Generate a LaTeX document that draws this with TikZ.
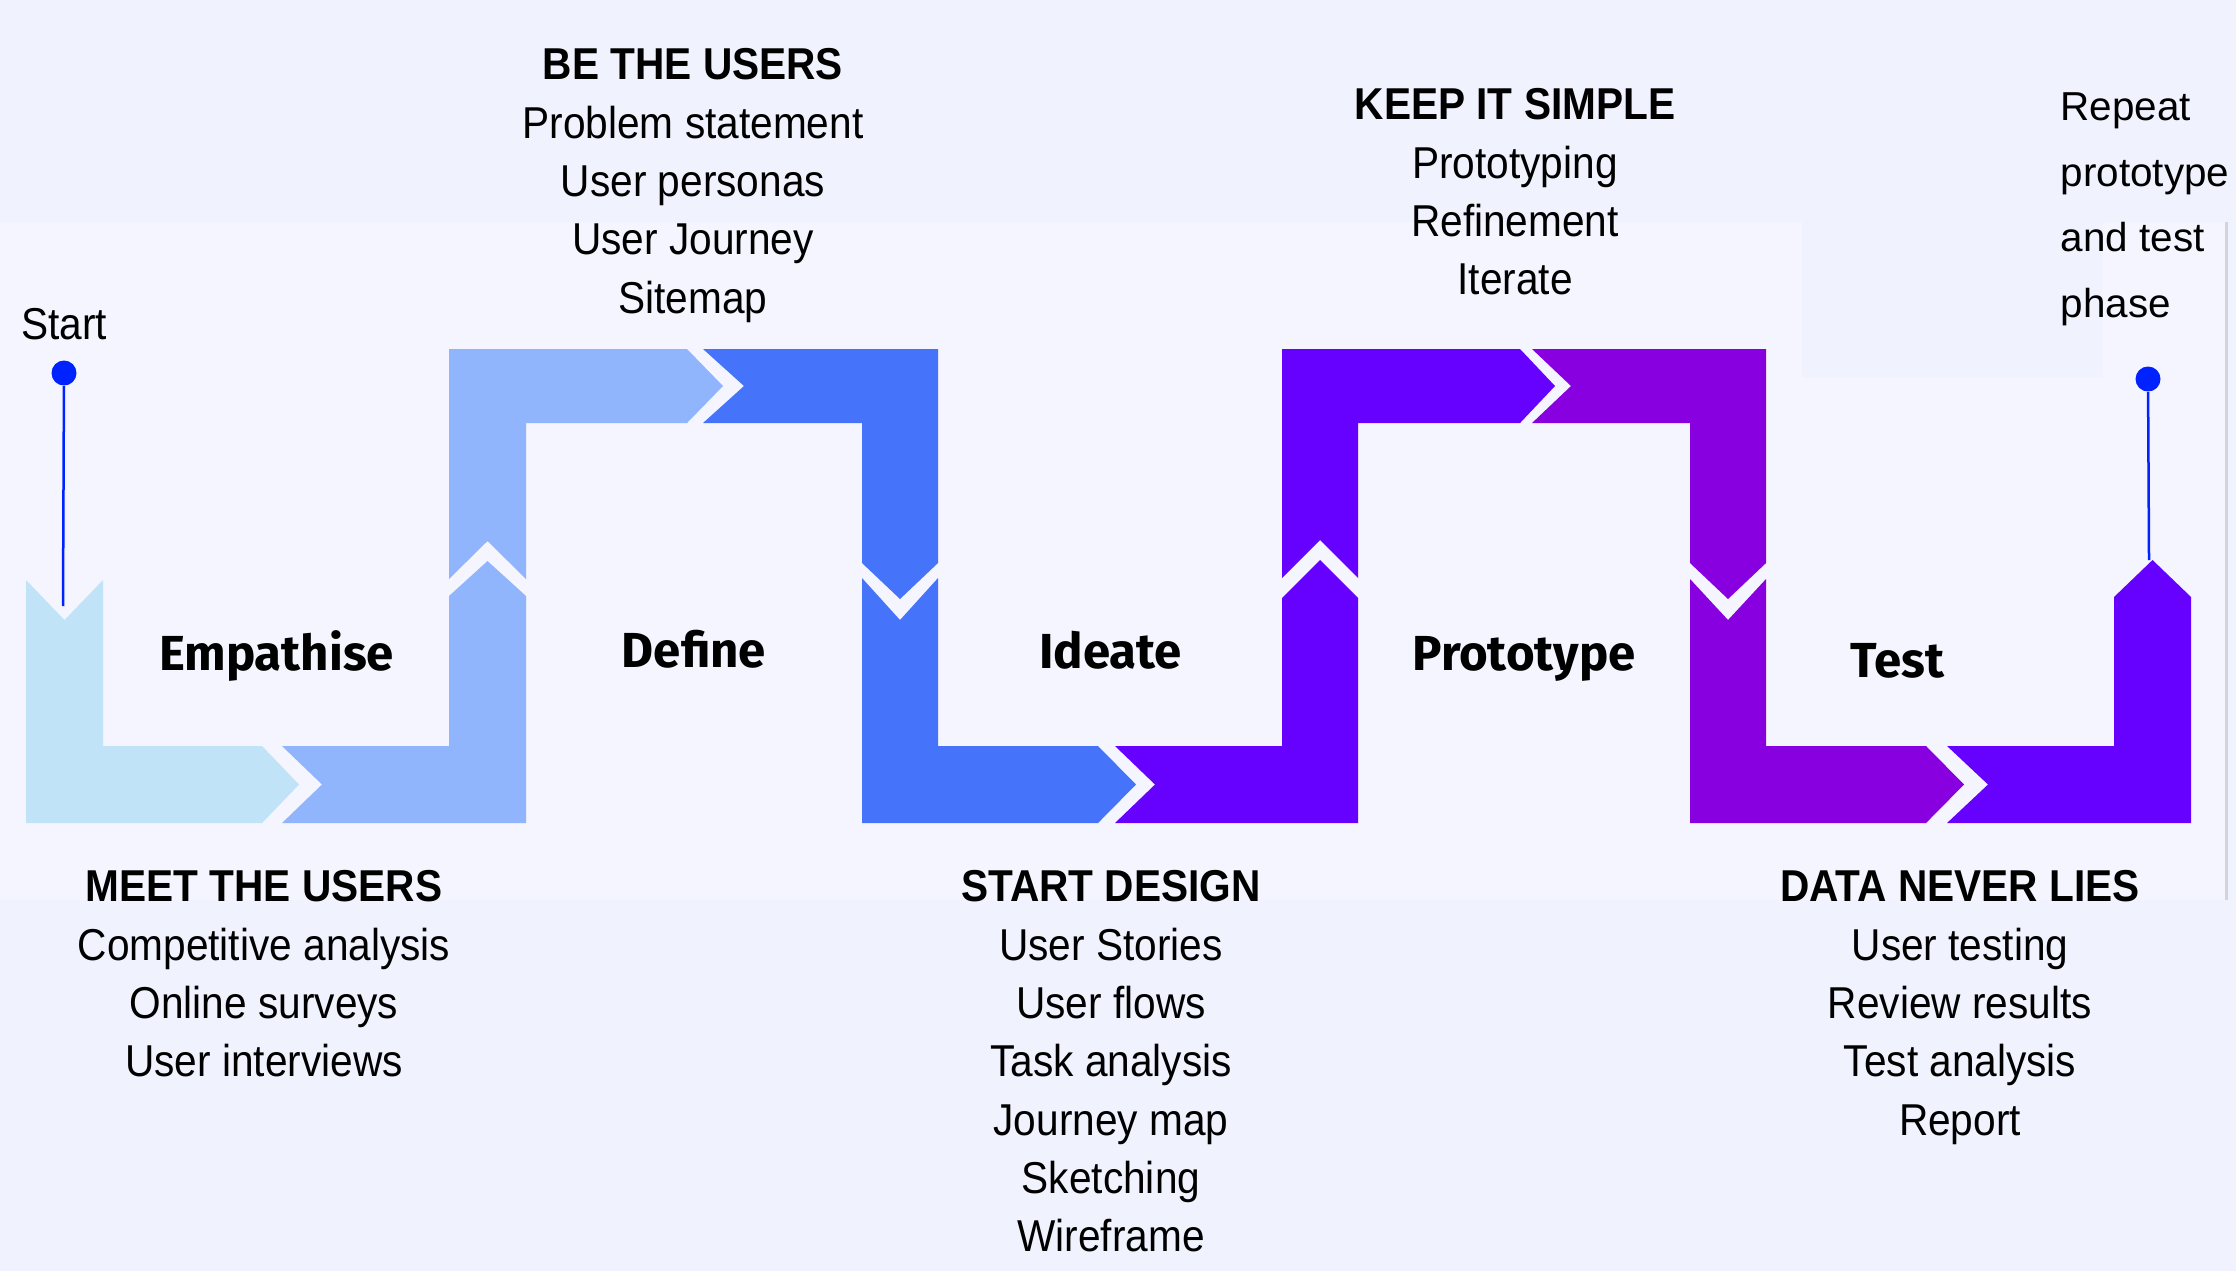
\documentclass[tikz,border=0pt]{standalone}
\usepackage{fontspec}
\setmainfont{Liberation Sans}
\newfontfamily\narrowfont[FakeStretch=0.91]{Liberation Sans}
\newfontfamily\stagefont{Fira Sans}
\definecolor{bgcol}{HTML}{F0F2FE}
\definecolor{bandcol}{HTML}{F4F5FE}
\definecolor{edgegray}{HTML}{D2D3DC}
\definecolor{pinblue}{HTML}{0022FF}
\definecolor{skyblue}{HTML}{C0E3F8}
\definecolor{paleblue}{HTML}{91B5FD}
\definecolor{midblue}{HTML}{4574FB}
\definecolor{indigo}{HTML}{6600FF}
\definecolor{violet}{HTML}{8800E0}
\begin{document}
\begin{tikzpicture}[
  x=0.1mm, y=-0.1mm,
  stage/.style={font=\stagefont\bfseries\fontsize{14pt}{16pt}\selectfont, anchor=base, inner sep=0pt},
  block/.style={font=\narrowfont\fontsize{12.7pt}{16.6pt}\selectfont, align=center, anchor=north, inner sep=0pt},
  pin/.style={draw=pinblue, line width=0.25mm},
  dot/.style={circle, fill=pinblue, minimum size=2.5mm, inner sep=0pt}
]
  \useasboundingbox (0,0) rectangle (2236,1271);
  \fill[bgcol] (0,0) rectangle (2236,1271);
  \fill[bandcol] (0,222) rectangle (2226,900);
  \fill[bgcol] (1802,222) rectangle (2103,378);
  \draw[edgegray, line width=0.3mm] (2226,222) -- (2226,900);

  % chevron path
  \fill[skyblue] (26,580) -- (64.5,620) -- (103,580) -- (103,746) -- (262,746) -- (299,784.5) -- (262,823) -- (26,823) -- cycle;
  \fill[paleblue] (282,746) -- (322,784.5) -- (282,823) -- (526,823) -- (526,596) -- (487.5,561) -- (449,596) -- (449,746) -- cycle;
  \fill[paleblue] (449,579) -- (487.5,541) -- (526,579) -- (526,423) -- (687,423) -- (723,386) -- (687,349) -- (449,349) -- cycle;
  \fill[midblue] (703,349) -- (744,386) -- (703,423) -- (862,423) -- (862,563) -- (900,599) -- (938,563) -- (938,349) -- cycle;
  \fill[midblue] (862,578) -- (900,620) -- (938,578) -- (938,746) -- (1098,746) -- (1136,784.5) -- (1098,823) -- (862,823) -- cycle;
  \fill[indigo] (1115,746) -- (1155,784.5) -- (1115,823) -- (1358,823) -- (1358,598) -- (1320,560) -- (1282,598) -- (1282,746) -- cycle;
  \fill[indigo] (1282,578) -- (1320,540) -- (1358,578) -- (1358,423) -- (1520,423) -- (1555,386) -- (1520,349) -- (1282,349) -- cycle;
  \fill[violet] (1532,349) -- (1571,386) -- (1532,423) -- (1690,423) -- (1690,563) -- (1728,599) -- (1766,563) -- (1766,349) -- cycle;
  \fill[violet] (1690,579) -- (1728,620) -- (1766,579) -- (1766,746) -- (1926,746) -- (1964,784.5) -- (1926,823) -- (1690,823) -- cycle;
  \fill[indigo] (1947,746) -- (1988,784.5) -- (1947,823) -- (2191,823) -- (2191,597) -- (2152.5,560) -- (2114,597) -- (2114,746) -- cycle;

  \node[stage] (empathise) at (276.5,670) {Empathise};
  \node[stage] (define) at (694,667) {Define};
  \node[stage] (ideate) at (1110.5,668) {Ideate};
  \node[stage] (prototype) at (1524,670) {Prototype};
  \node[stage] (test) at (1897.5,677) {Test};

  % start and end pins
  \node[font=\narrowfont\fontsize{12.7pt}{16pt}\selectfont, anchor=base, inner sep=0pt] (start) at (64,339) {Start};
  \node[dot] (startdot) at (64,373) {};
  \coordinate (startend) at (63,606);
  \draw[pin] (startdot) -- (startend);
  \node[dot] (enddot) at (2148,379) {};
  \coordinate (endtip) at (2149,560);
  \draw[pin] (enddot) -- (endtip);
  \node[font=\fontsize{11.5pt}{18.7pt}\selectfont, align=left, anchor=north west, inner sep=0pt] (repeat) at (2060,92)
    {Repeat\\prototype\\and test\\phase};

  \node[block] (bethe) at (693,48)
    {\textbf{BE THE USERS}\\Problem statement\\User personas\\User Journey\\Sitemap};
  \node[block] (keepit) at (1515,88)
    {\textbf{KEEP IT SIMPLE}\\Prototyping\\Refinement\\Iterate};
  \node[block] (meet) at (264,870)
    {\textbf{MEET THE USERS}\\Competitive analysis\\Online surveys\\User interviews};
  \node[block] (design) at (1111,870)
    {\textbf{START DESIGN}\\User Stories\\User flows\\Task analysis\\Journey map\\Sketching\\Wireframe};
  \node[block] (datanever) at (1960,870)
    {\textbf{DATA NEVER LIES}\\User testing\\Review results\\Test analysis\\Report};
\end{tikzpicture}
\end{document}
